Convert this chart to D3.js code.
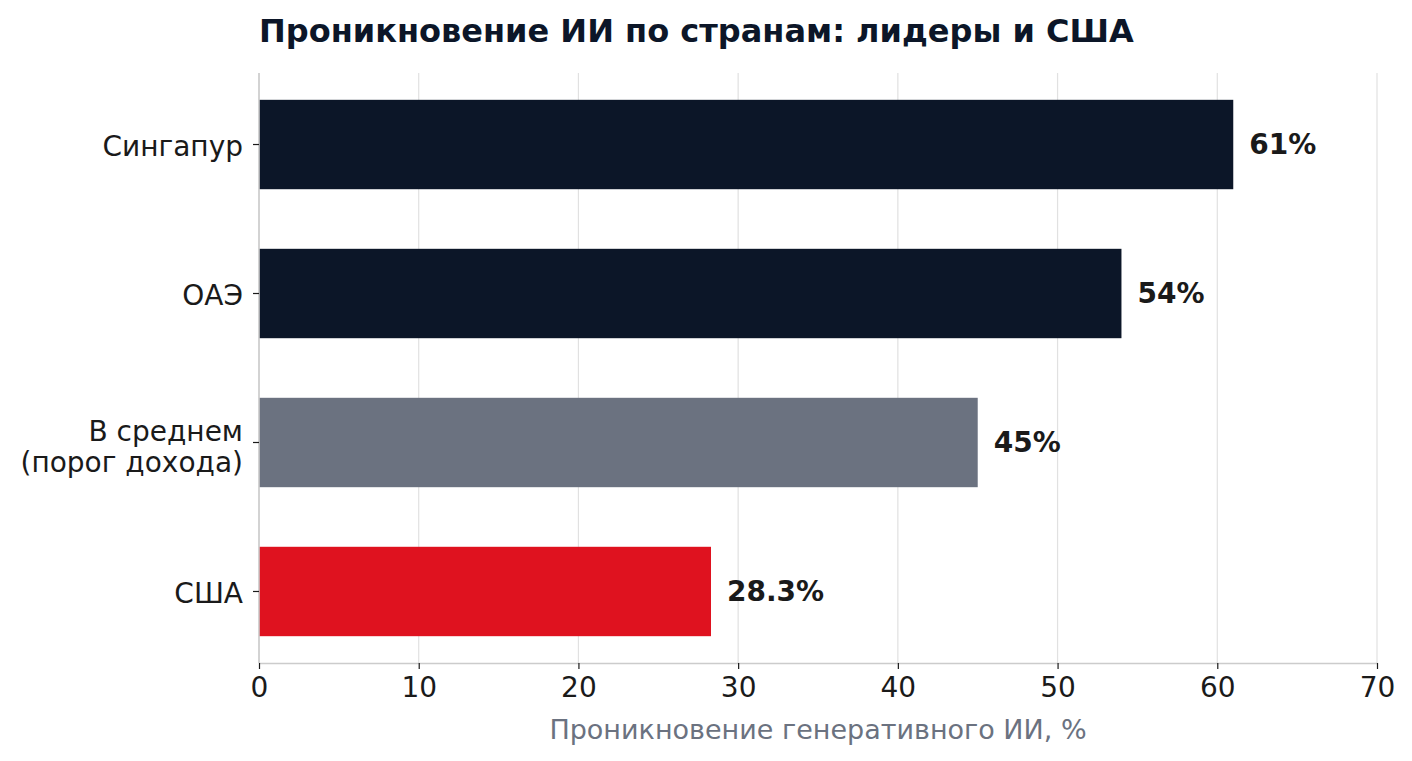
<!DOCTYPE html>
<html>
<head>
<meta charset="utf-8">
<script src="https://cdn.jsdelivr.net/npm/d3@7"></script>
<style>
  body { margin: 0; background: #fff; }
  svg { display: block; font-family: "DejaVu Sans", sans-serif; }
</style>
</head>
<body>
<div id="chart"></div>
<script>
// data
var countries = ["Сингапур", "ОАЭ", "В среднем\n(порог дохода)", "США"];
var values = [61, 54, 45, 28.3];
var valueLabels = ["61%", "54%", "45%", "28.3%"];
var barColors = ["#0c1628", "#0c1628", "#6b7280", "#df121f"];
var xTicks = [0, 10, 20, 30, 40, 50, 60, 70];

var width = 1412, height = 761;
var margin = { top: 73, right: 35, bottom: 98, left: 259 };

var svg = d3.select("#chart")
    .append("svg")
    .attr("width", width)
    .attr("height", height);

// scales: x in percent, y by bar index (matplotlib-like margins)
var x = d3.scaleLinear()
    .domain([0, 70])
    .range([margin.left, width - margin.right]);

var y = d3.scaleLinear()
    .domain([-0.48, 3.48])
    .range([margin.top, height - margin.bottom]);

var barH = y(0.6) - y(0);

// vertical grid
svg.append("g")
    .selectAll("line")
    .data(xTicks)
    .enter()
    .append("line")
    .attr("x1", function (d) { return x(d); })
    .attr("x2", function (d) { return x(d); })
    .attr("y1", margin.top)
    .attr("y2", height - margin.bottom)
    .style("stroke", "#e1e1e1")
    .style("stroke-width", 1.2);

// bars
svg.append("g")
    .selectAll("rect")
    .data(values)
    .enter()
    .append("rect")
    .attr("x", x(0))
    .attr("y", function (d, i) { return y(i) - barH / 2; })
    .attr("width", function (d) { return x(d) - x(0); })
    .attr("height", barH)
    .style("fill", function (d, i) { return barColors[i]; });

// value labels
svg.append("g")
    .selectAll("text")
    .data(values)
    .enter()
    .append("text")
    .attr("x", function (d) { return x(d) + 16; })
    .attr("y", function (d, i) { return y(i); })
    .attr("dy", "0.35em")
    .text(function (d, i) { return valueLabels[i]; })
    .style("font-size", "28px")
    .style("font-weight", "bold")
    .style("fill", "#1a1a1a");

// x axis
var xAxis = svg.append("g")
    .attr("transform", "translate(0," + (height - margin.bottom) + ")")
    .call(d3.axisBottom(x).tickValues(xTicks).tickSize(6).tickPadding(8).tickSizeOuter(0));
xAxis.select(".domain").style("stroke", "#cccccc").style("stroke-width", 1.6);
xAxis.selectAll(".tick line").style("stroke", "#1a1a1a").style("stroke-width", 1.2);
xAxis.selectAll(".tick text")
    .style("font-size", "28px")
    .style("fill", "#1a1a1a")
    .style("font-family", "DejaVu Sans, sans-serif");

// y spine
svg.append("line")
    .attr("x1", x(0)).attr("x2", x(0))
    .attr("y1", margin.top).attr("y2", height - margin.bottom)
    .style("stroke", "#cccccc")
    .style("stroke-width", 1.6);

// y ticks and labels
var yTick = svg.append("g")
    .selectAll("g")
    .data(countries)
    .enter()
    .append("g")
    .attr("transform", function (d, i) { return "translate(" + x(0) + "," + y(i) + ")"; });

yTick.append("line")
    .attr("x1", -6).attr("x2", 0)
    .style("stroke", "#1a1a1a")
    .style("stroke-width", 1.2);

yTick.each(function (d) {
    var lines = d.split("\n");
    var t = d3.select(this).append("text")
        .attr("x", -16)
        .attr("text-anchor", "end")
        .style("font-size", "28px")
        .style("fill", "#1a1a1a");
    lines.forEach(function (line, j) {
        t.append("tspan")
            .attr("x", -16)
            .attr("y", (j - (lines.length - 1) / 2) * 31 + (lines.length > 1 ? 4 : 2))
            .attr("dy", "0.35em")
            .text(line);
    });
});

// axis title
svg.append("text")
    .attr("x", (x(0) + x(70)) / 2)
    .attr("y", 739)
    .attr("text-anchor", "middle")
    .text("Проникновение генеративного ИИ, %")
    .style("font-size", "27px")
    .style("fill", "#6b7280");

// chart title
svg.append("text")
    .attr("x", margin.left)
    .attr("y", 42)
    .text("Проникновение ИИ по странам: лидеры и США")
    .style("font-size", "32px")
    .style("font-weight", "bold")
    .style("fill", "#0c1628");
</script>
</body>
</html>
